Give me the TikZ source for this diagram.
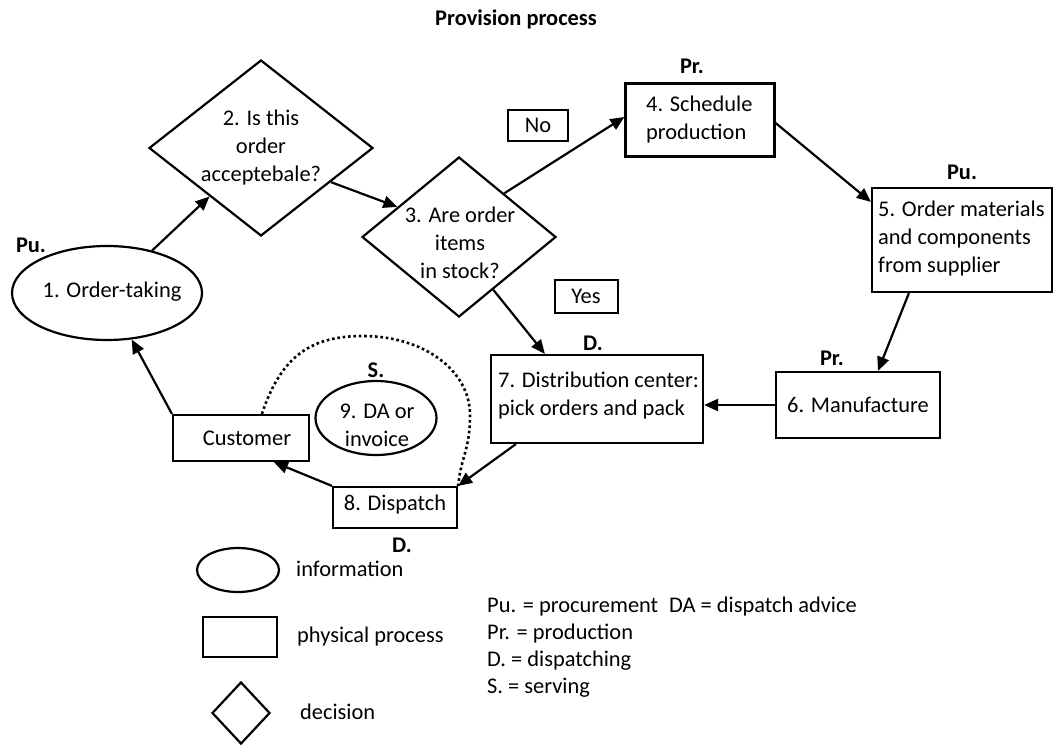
\documentclass[tikz,border=0pt]{standalone}
\usepackage{fontspec}
\setmainfont{Carlito}
\usetikzlibrary{shapes.geometric, arrows.meta}

\begin{document}
\begin{tikzpicture}[x=1pt, y=-1pt,
  every node/.style={inner sep=0pt, font=\fontsize{22.4pt}{28pt}\selectfont},
  shp/.style={draw, line width=2.2pt},
  procbox/.style={shp, rectangle},
  infoell/.style={shp, ellipse},
  decide/.style={shp, diamond},
  tagbox/.style={draw, line width=2pt, rectangle},
  lbl/.style={font=\bfseries\fontsize{22.4pt}{28pt}\selectfont},
  flow/.style={line width=2.2pt, -{Triangle[length=14pt,width=12pt]}},
  serve/.style={line width=2.6pt, dash pattern=on 2.6pt off 2.8pt}
]
\useasboundingbox[fill=white] (0,0) rectangle (1056,744);

% title
\node[lbl] (title) at (516,19) {Provision process};

% 1. order-taking
\node[infoell, minimum width=190pt, minimum height=94pt] (n1) at (107,293) {};
\node (t1) at (112,292) {1. Order-taking};
\node[lbl] (tag1) at (31,245) {Pu.};

% 2. acceptance decision
\node[decide, minimum width=224pt, minimum height=176pt] (d2) at (261,148) {};
\node[align=center] (t2) at (261,148) {2. Is this\\order\\acceptebale?};

% 3. stock decision
\node[decide, minimum width=194pt, minimum height=160pt] (d3) at (459,237) {};
\node[align=center] (t3) at (460,243) {3. Are order\\items\\in stock?};

% branch tags
\node[tagbox, minimum width=60pt, minimum height=31pt] (no) at (538,125) {No};
\node[tagbox, minimum width=63pt, minimum height=33pt] (yes) at (586,296) {Yes};

% 4. schedule production
\node[procbox, minimum width=149pt, minimum height=73pt] (n4) at (700,120) {};
\node[align=left, anchor=west] (t4) at (646,120) {4. Schedule\\production};
\node[lbl] (tag4) at (692,66) {Pr.};

% 5. order materials
\node[procbox, minimum width=180pt, minimum height=104pt] (n5) at (962,240) {};
\node[align=left, anchor=west] (t5) at (878,239) {5. Order materials\\and components\\from supplier};
\node[lbl] (tag5) at (962,172) {Pu.};

% 6. manufacture
\node[procbox, minimum width=164pt, minimum height=66pt] (n6) at (858,405) {};
\node (t6) at (858,405) {6. Manufacture};
\node[lbl] (tag6) at (832,358) {Pr.};

% 7. distribution center
\node[procbox, minimum width=212pt, minimum height=88pt] (n7) at (597,399) {};
\node[align=left, anchor=west] (t7) at (498,396) {7. Distribution center:\\pick orders and pack};
\node[lbl] (tag7) at (593,343) {D.};

% 8. dispatch
\node[procbox, minimum width=124pt, minimum height=41pt] (n8) at (395,507.5) {};
\node (t8) at (395,505) {8. Dispatch};
\node[lbl] (tag8) at (402,545) {D.};

% customer
\node[procbox, minimum width=136pt, minimum height=46pt] (cust) at (241,438) {};
\node (tc) at (247,438) {Customer};

% 9. dispatch advice / invoice
\node[infoell, minimum width=121pt, minimum height=74pt] (n9) at (376,418) {};
\node[align=center] (t9) at (377,425) {9. DA or\\invoice};
\node[lbl] (tag9) at (376,370) {S.};

% flow connectors
\draw[flow] (n1) -- (d2);
\draw[flow] (d2.-26) -- (d3.154);
\draw[flow] (d3.44) -- ([yshift=3pt]n4.west);
\draw[flow] ([yshift=-3pt]n4.east) -- ([yshift=-15pt]n5.north west);
\draw[flow] ([xshift=38pt]n5.south west) -- ([xshift=20pt]n6.north);
\draw[flow] (n6.west) -- (n6.west -| n7.east);
\draw[flow] (d3.-57) -- ([xshift=55pt]n7.north west);
\draw[flow] ([xshift=26pt]n7.south west) -- (n8.north east);
\draw[flow] (n8.north west) -- ([xshift=102pt]cust.south west);
\draw[flow] (cust.north west) -- (n1.-62);

% serving loop
\coordinate (arcTop) at (363,336);
\coordinate (arcRight) at (470,415);
\draw[serve] ([xshift=90pt]cust.north west) .. controls +(20,-60) and +(-50,0) .. (arcTop)
  .. controls +(60,0) and +(0,-45) .. (arcRight)
  .. controls +(0,35) and +(3,-30) .. (n8.north east);

% legend
\node[infoell, minimum width=82pt, minimum height=44pt] (leginfo) at (238,570) {};
\node[anchor=west] (legtinfo) at (296,569) {information};
\node[procbox, minimum width=74pt, minimum height=40pt] (legproc) at (240,637) {};
\node[anchor=west] (legtproc) at (297,637) {physical process};
\node[decide, minimum width=58pt, minimum height=62pt] (legdec) at (241,713) {};
\node[anchor=west] (legtdec) at (300,712) {decision};
\node[align=left, anchor=west, font=\fontsize{22.4pt}{27pt}\selectfont] (abbr) at (487,648)
  {Pu. = procurement\\Pr. = production\\D. = dispatching\\S. = serving};
\node[anchor=west] (da) at (669,607) {DA = dispatch advice};
\end{tikzpicture}
\end{document}
